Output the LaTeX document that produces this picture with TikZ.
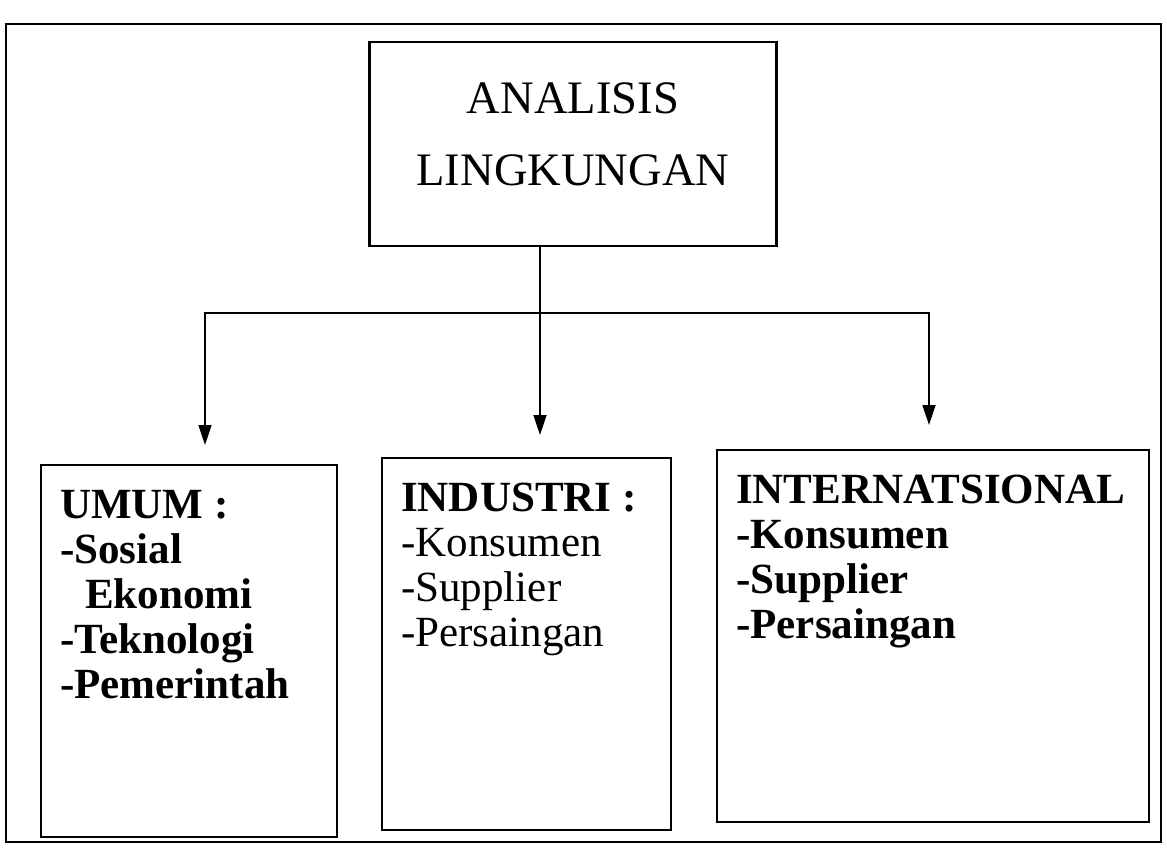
\documentclass[tikz,border=0pt]{standalone}
\usepackage{fontspec}
\setmainfont{Liberation Serif}
\usetikzlibrary{arrows.meta}

% isi kotak: lebar, baris-baris teks
\newcommand{\isikotak}[2]{\parbox[t][6.44cm][t]{#1}{\raggedright\fontsize{24.5}{25.6}\selectfont #2}}

\begin{document}
\begin{tikzpicture}[x=0.02cm, y=-0.02cm,
  kotak/.style={draw, line width=1.3pt},
  anak/.style={kotak, anchor=north west, inner xsep=0.38cm, inner ysep=0.5cm},
  panah/.style={line width=1pt, -{Triangle[length=0.4cm, width=0.26cm]}}]

\useasboundingbox (0,0) rectangle (1167,861);

%---------------- bingkai luar ----------------%
\draw[kotak] (6,24) rectangle (1161,842);

%---------------- kotak utama ----------------%
\node[kotak, minimum width=8.14cm, minimum height=4.08cm, align=center, text depth=0.4cm,
      font=\fontsize{26.5}{41}\selectfont] (lingk) at (573,144) {ANALISIS\\LINGKUNGAN};

%---------------- tiga kotak bawah ----------------%
\node[anak] (umum) at (40,464)
  {\isikotak{5.16cm}{\bfseries UMUM :\\-Sosial\\\hspace*{0.5cm}Ekonomi\\-Teknologi\\-Pemerintah}};
\node[anak] (industri) at (381,457)
  {\isikotak{5.02cm}{\textbf{INDUSTRI :}\\-Konsumen\\-Supplier\\-Persaingan}};
\node[anak] (intl) at (716,449)
  {\isikotak{7.88cm}{\bfseries INTERNATSIONAL\\-Konsumen\\-Supplier\\-Persaingan}};

%---------------- panah ----------------%
\coordinate (hub) at (540,313);
\coordinate (ujungU) at (205,445);
\coordinate (ujungI) at (540,435);
\coordinate (ujungN) at (929,425);
\draw[line width=1pt] (lingk.south -| hub) -- (hub);
\draw[panah] (hub) -| (ujungU);
\draw[panah] (hub) -- (ujungI);
\draw[panah] (hub) -| (ujungN);

\end{tikzpicture}
\end{document}
